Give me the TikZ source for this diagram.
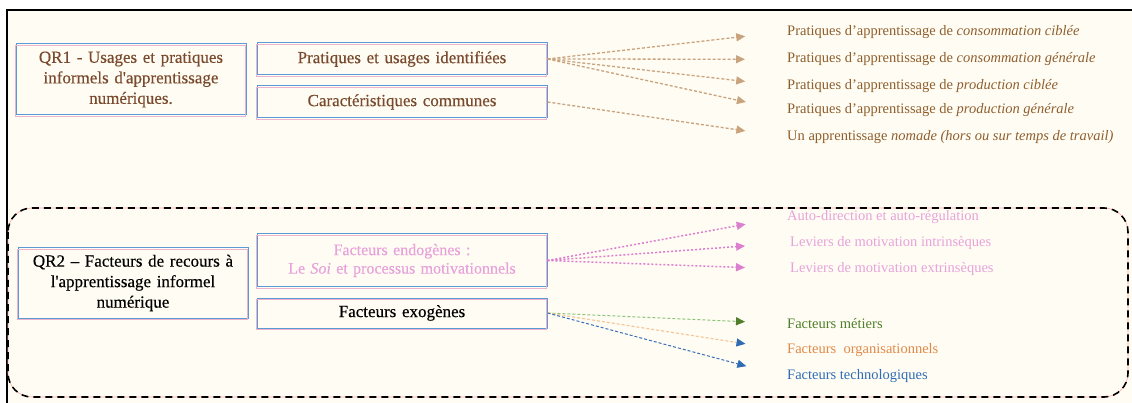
\documentclass[tikz,border=0pt]{standalone}
\usepackage{fontspec}
\setmainfont{Liberation Serif}
\newfontfamily\qfam{Liberation Serif}[FakeBold=0.4, Ligatures=TeX]
\usetikzlibrary{arrows.meta,positioning}
\definecolor{cream}{HTML}{FFFDF3}
\definecolor{boxblue}{HTML}{5B9BD5}
\definecolor{boxpink}{HTML}{EDB3CC}
\definecolor{boxbrown}{HTML}{7A4A2E}
\definecolor{txtbrown}{HTML}{8F5E2E}
\definecolor{linebrown}{HTML}{C9A27E}
\definecolor{txtpink}{HTML}{E8A2DB}
\definecolor{linepink}{HTML}{DD7FCF}
\definecolor{txtgreen}{HTML}{4F7F2A}
\definecolor{linegreen}{HTML}{8CC47A}
\definecolor{txtorange}{HTML}{E0894A}
\definecolor{lineorange}{HTML}{F5C79C}
\definecolor{txtblue}{HTML}{2F6CB5}
\definecolor{lineblue}{HTML}{3A6FB8}
\newcommand\qfont{\qfam\fontsize{17}{20.5}\selectfont}
\newcommand\rfont{\fontsize{14.5}{17}\selectfont}

\begin{document}
\begin{tikzpicture}[
  x=1pt, y=-1pt,
  qbox/.style = {
    rectangle, draw=boxblue, line width=1pt, fill=cream,
    inner sep=0pt, align=center, font=\qfont,
    postaction={draw=boxpink, line width=0.7pt,
      transform canvas={shift={(-1pt,-1pt)}}}
  },
  rtxt/.style = {anchor=west, inner sep=2pt, font=\rfont},
  arr/.style = {-{Triangle[length=9pt,width=8pt]}, shorten >=40pt},
  brarr/.style = {arr, linebrown, line width=1.3pt, dash pattern=on 3pt off 2pt},
  pkarr/.style = {arr, linepink, line width=1.5pt, dash pattern=on 2pt off 2pt}
]
  \useasboundingbox (0,0) rectangle (1132,403);
  \clip (0,0) rectangle (1132,403);
  \fill[white] (0,0) rectangle (1132,403);
  \draw[fill=cream, line width=1.5pt] (7,10) rectangle (1160,430);

  % QR1
  \node[qbox, text width=230pt, minimum height=71pt, text=boxbrown] (qr1) at (131,79.5)
    {QR1 - Usages et pratiques\\informels d\textquotesingle apprentissage\\numériques.};
  \node[qbox, text width=290pt, minimum height=32pt, text=boxbrown] (pue) at (402,59)
    {Pratiques et usages identifiées};
  \node[qbox, text width=290pt, minimum height=32pt, text=boxbrown, below=10pt of pue] (cc)
    {Caractéristiques communes};

  \node[rtxt, text=txtbrown] (cc1) at (785,31.7) {Pratiques d’apprentissage de \textit{consommation ciblée}};
  \node[rtxt, text=txtbrown] (cg1) at (785,59.3) {Pratiques d’apprentissage de \textit{consommation générale}};
  \node[rtxt, text=txtbrown] (pc1) at (785,86) {Pratiques d’apprentissage de \textit{production ciblée}};
  \node[rtxt, text=txtbrown] (pg1) at (785,110.5) {Pratiques d’apprentissage de \textit{production générale}};
  \node[rtxt, text=txtbrown] (nom) at (785,136.7) {Un apprentissage \textit{nomade (hors ou sur temps de travail)}};

  \draw[brarr] (pue.east) -- (cc1.west);
  \draw[brarr] (pue.east) -- (cg1.west);
  \draw[brarr] (pue.east) -- (pc1.west);
  \draw[brarr] (pue.east) -- (pg1.west);
  \draw[brarr] (cc.east)  -- (nom.west);

  % QR2
  \draw[red!35, line width=0.6pt, rounded corners=24pt] (8,208) rectangle (1128,397);
  \draw[black, line width=1.6pt, dash pattern=on 7pt off 5pt, rounded corners=24pt]
    (8,208) rectangle (1128,397);

  \node[qbox, text width=230pt, minimum height=70pt] (qr2) at (133,283)
    {QR2 -- Facteurs de recours à\\l\textquotesingle apprentissage informel\\numérique};
  \node[qbox, text width=290pt, minimum height=53pt, text=txtpink,
    font=\qfam\fontsize{16}{18.5}\selectfont] (endo) at (402,260.5)
    {Facteurs endogènes :\\Le \textit{Soi} et processus motivationnels};
  \node[qbox, text width=290pt, minimum height=30pt, below=10pt of endo] (exo)
    {Facteurs exogènes};

  \node[rtxt, text=txtpink] (auto) at (785,217) {Auto-direction et auto-régulation};
  \node[rtxt, text=txtpink] (lint) at (788,243) {Leviers de motivation intrinsèques};
  \node[rtxt, text=txtpink] (lext) at (788,269) {Leviers de motivation extrinsèques};
  \node[rtxt, text=txtgreen] (met) at (785,323.5) {Facteurs métiers};
  \node[rtxt, text=txtorange] (org) at (785,350) {Facteurs~ organisationnels};
  \node[rtxt, text=txtblue] (tec) at (785,376.5) {Facteurs technologiques};

  \draw[pkarr] (endo.east) -- (auto.west);
  \draw[pkarr] (endo.east) -- ([xshift=-3pt]lint.west);
  \draw[pkarr] (endo.east) -- ([xshift=-3pt]lext.west);
  \draw[arr, linegreen, line width=1pt, dash pattern=on 3pt off 2pt,
    -{Triangle[length=9pt,width=8pt,color=txtgreen]}] (exo.east) -- (met.west);
  \draw[arr, lineorange, line width=1.2pt, dash pattern=on 3pt off 2pt,
    -{Triangle[length=9pt,width=8pt,color=txtblue]}] (exo.east) -- (org.west);
  \draw[arr, lineblue, line width=1pt, dash pattern=on 3pt off 2pt,
    -{Triangle[length=9pt,width=8pt,color=txtblue]}] (exo.east) -- (tec.west);
\end{tikzpicture}
\end{document}
